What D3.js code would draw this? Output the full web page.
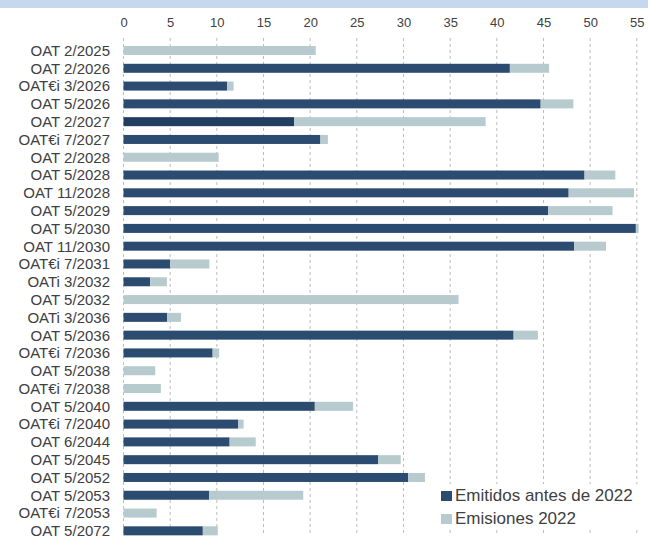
<!DOCTYPE html>
<html>
<head>
<meta charset="utf-8">
<script src="https://cdn.jsdelivr.net/npm/d3@7"></script>
<style>
  body { margin: 0; background: #fff; }
  svg { display: block; font-family: "Liberation Sans", Arial, sans-serif; }
</style>
</head>
<body>
<div id="chart"></div>
<script>
// bonos (eje vertical)
var bonds = ["OAT 2/2025", "OAT 2/2026", "OAT€i 3/2026", "OAT 5/2026", "OAT 2/2027",
  "OAT€i 7/2027", "OAT 2/2028", "OAT 5/2028", "OAT 11/2028", "OAT 5/2029",
  "OAT 5/2030", "OAT 11/2030", "OAT€i 7/2031", "OATi 3/2032", "OAT 5/2032",
  "OATi 3/2036", "OAT 5/2036", "OAT€i 7/2036", "OAT 5/2038", "OAT€i 7/2038",
  "OAT 5/2040", "OAT€i 7/2040", "OAT 6/2044", "OAT 5/2045", "OAT 5/2052",
  "OAT 5/2053", "OAT€i 7/2053", "OAT 5/2072"];
var emitidosAntes = [0, 41.4, 11.1, 44.7, 18.3, 21.1, 0, 49.4, 47.7, 45.5,
  54.9, 48.3, 5.0, 2.85, 0, 4.66, 41.8, 9.55, 0, 0,
  20.5, 12.27, 11.37, 27.3, 30.5, 9.16, 0, 8.5];
var emisiones2022 = [20.6, 4.2, 0.7, 3.5, 20.5, 0.8, 10.2, 3.3, 7.0, 6.9,
  0.3, 3.4, 4.2, 1.8, 35.9, 1.5, 2.6, 0.7, 3.4, 4.0,
  4.1, 0.6, 2.8, 2.4, 1.8, 10.1, 3.55, 1.6];
var xTicks = [0, 5, 10, 15, 20, 25, 30, 35, 40, 45, 50, 55];
var seriesNames = ["Emitidos antes de 2022", "Emisiones 2022"];

var width = 648, height = 536;
var darkColor = '#2c4b70', lightColor = '#b7cace';
var highlight = "OAT 2/2027", highlightColor = '#213d60';

var rows = bonds.map(function (b, i) {
  return { name: b, antes: emitidosAntes[i], nuevas: emisiones2022[i] };
});

var svg = d3.select("#chart").append("svg")
  .attr("width", width)
  .attr("height", height);

// franja superior
svg.append("rect")
  .attr("x", 0).attr("y", 0)
  .attr("width", width).attr("height", 8)
  .attr("fill", "#c5d8ee");

var x = d3.scaleLinear()
  .domain([0, 55])
  .range([123.5, 636.8]);

var step = 17.79;
var y = d3.scaleBand()
  .domain(bonds)
  .range([50.5 - step / 2, 50.5 - step / 2 + step * bonds.length])
  .paddingInner(0.494)
  .paddingOuter(0.247);

// rejilla
svg.append("g").selectAll("line")
  .data(xTicks)
  .enter().append("line")
  .attr("x1", d => x(d)).attr("x2", d => x(d))
  .attr("y1", 38).attr("y2", height)
  .attr("stroke", "#bdbdbd")
  .attr("stroke-width", 1)
  .attr("stroke-dasharray", "3,3");

// eje superior
var xAxis = d3.axisTop(x).tickValues(xTicks).tickSize(0).tickPadding(0);
var ax = svg.append("g")
  .attr("transform", "translate(0,27)")
  .call(xAxis);
ax.select(".domain").remove();
ax.selectAll("text")
  .attr("dy", 0)
  .style("font-size", "13px")
  .style("font-family", "Liberation Sans, Arial, sans-serif")
  .attr("fill", "#404040");

// etiquetas
var yAxis = d3.axisLeft(y).tickSize(0).tickPadding(0);
var ay = svg.append("g")
  .attr("transform", "translate(110,0)")
  .call(yAxis);
ay.select(".domain").remove();
ay.selectAll("text")
  .attr("dy", "0.36em")
  .style("font-size", "15px")
  .style("font-family", "Liberation Sans, Arial, sans-serif")
  .attr("fill", "#404040");

// barras
var g = svg.append("g");
g.selectAll(".antes")
  .data(rows.filter(d => d.antes > 0))
  .enter().append("rect")
  .attr("class", "antes")
  .attr("x", x(0))
  .attr("y", d => y(d.name))
  .attr("width", d => x(d.antes) - x(0))
  .attr("height", y.bandwidth())
  .attr("fill", d => d.name == highlight ? highlightColor : darkColor);

g.selectAll(".nuevas")
  .data(rows.filter(d => d.nuevas > 0))
  .enter().append("rect")
  .attr("class", "nuevas")
  .attr("x", d => x(d.antes))
  .attr("y", d => y(d.name))
  .attr("width", d => x(d.antes + d.nuevas) - x(d.antes))
  .attr("height", y.bandwidth())
  .attr("fill", lightColor);

// leyenda
var legend = svg.append("g");
legend.append("rect")
  .attr("x", 437).attr("y", 484)
  .attr("width", 203).attr("height", 46)
  .attr("fill", "#fff");

var li = legend.selectAll(".item")
  .data(seriesNames)
  .enter().append("g")
  .attr("class", "item")
  .attr("transform", (d, i) => "translate(441," + (491 + i * 23) + ")");
li.append("rect")
  .attr("width", 11).attr("height", 10)
  .attr("fill", (d, i) => i == 0 ? darkColor : lightColor);
li.append("text")
  .attr("x", 14).attr("y", 10)
  .style("font-size", "17px")
  .attr("fill", "#404040")
  .text(d => d);
</script>
</body>
</html>
